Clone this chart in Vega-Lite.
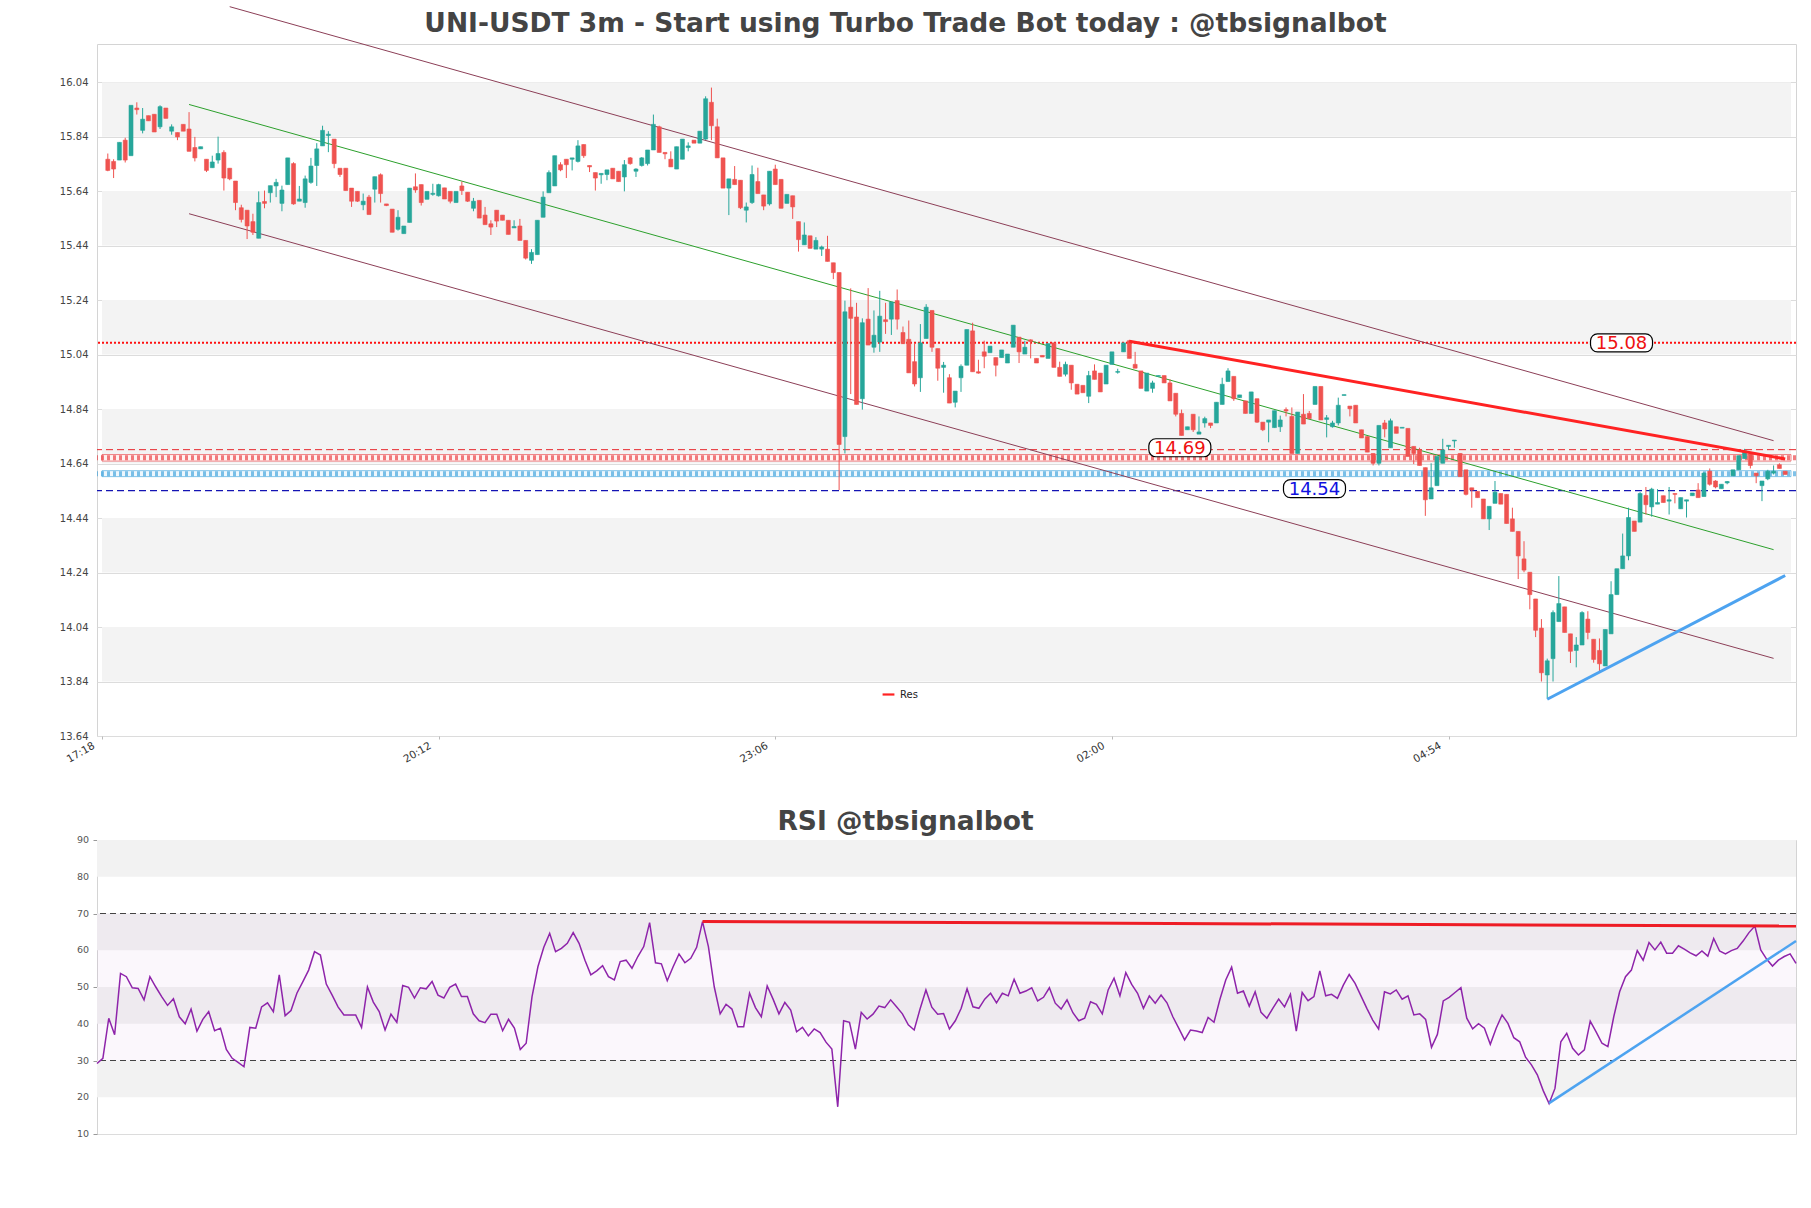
{
  "$schema": "https://vega.github.io/schema/vega-lite/v6.json",
  "background": "white",
  "padding": {"left": 58, "top": 4, "right": 10, "bottom": 10},
  "config": {"font": "DejaVu Sans", "view": {"stroke": "#d4d4d4", "strokeWidth": 1}},
  "bounds": "flush",
  "spacing": 104,
  "resolve": {"scale": {"color": "independent"}, "legend": {"color": "independent"}},
  "datasets": {
    "k": [
{"i":1,"o":15.757,"h":15.778,"l":15.713,"c":15.716,"r":29.2},
{"i":2,"o":15.749,"h":15.757,"l":15.688,"c":15.721,"r":30.6},
{"i":3,"o":15.754,"h":15.819,"l":15.754,"c":15.819,"r":41.5},
{"i":4,"o":15.827,"h":15.836,"l":15.745,"c":15.754,"r":37},
{"i":5,"o":15.770,"h":15.955,"l":15.770,"c":15.955,"r":53.7},
{"i":6,"o":15.945,"h":15.966,"l":15.921,"c":15.939,"r":52.8},
{"i":7,"o":15.863,"h":15.945,"l":15.852,"c":15.904,"r":49.8},
{"i":8,"o":15.917,"h":15.917,"l":15.898,"c":15.898,"r":49.6},
{"i":9,"o":15.922,"h":15.922,"l":15.857,"c":15.857,"r":46.5},
{"i":10,"o":15.876,"h":15.955,"l":15.868,"c":15.950,"r":52.8},
{"i":11,"o":15.945,"h":15.945,"l":15.907,"c":15.907,"r":50},
{"i":12,"o":15.860,"h":15.885,"l":15.847,"c":15.876,"r":47.4},
{"i":13,"o":15.855,"h":15.855,"l":15.827,"c":15.839,"r":45},
{"i":14,"o":15.885,"h":15.885,"l":15.860,"c":15.860,"r":46.8},
{"i":15,"o":15.868,"h":15.930,"l":15.786,"c":15.786,"r":41.9},
{"i":16,"o":15.800,"h":15.839,"l":15.749,"c":15.762,"r":40},
{"i":17,"o":15.795,"h":15.803,"l":15.795,"c":15.803,"r":44},
{"i":18,"o":15.757,"h":15.757,"l":15.710,"c":15.716,"r":38},
{"i":19,"o":15.726,"h":15.770,"l":15.726,"c":15.747,"r":41.2},
{"i":20,"o":15.754,"h":15.840,"l":15.741,"c":15.778,"r":43.3},
{"i":21,"o":15.782,"h":15.790,"l":15.642,"c":15.688,"r":38.1},
{"i":22,"o":15.724,"h":15.724,"l":15.680,"c":15.685,"r":38.8},
{"i":23,"o":15.677,"h":15.677,"l":15.570,"c":15.598,"r":33},
{"i":24,"o":15.579,"h":15.590,"l":15.525,"c":15.536,"r":30.6},
{"i":25,"o":15.570,"h":15.570,"l":15.464,"c":15.512,"r":29.5},
{"i":26,"o":15.528,"h":15.557,"l":15.479,"c":15.489,"r":28.3},
{"i":27,"o":15.467,"h":15.639,"l":15.467,"c":15.598,"r":39},
{"i":28,"o":15.602,"h":15.642,"l":15.577,"c":15.595,"r":38.8},
{"i":29,"o":15.634,"h":15.660,"l":15.598,"c":15.660,"r":44.6},
{"i":30,"o":15.659,"h":15.685,"l":15.618,"c":15.672,"r":45.7},
{"i":31,"o":15.595,"h":15.660,"l":15.566,"c":15.644,"r":43.3},
{"i":32,"o":15.664,"h":15.762,"l":15.664,"c":15.762,"r":53.3},
{"i":33,"o":15.741,"h":15.746,"l":15.590,"c":15.593,"r":42.2},
{"i":34,"o":15.603,"h":15.659,"l":15.603,"c":15.611,"r":43.6},
{"i":35,"o":15.598,"h":15.697,"l":15.579,"c":15.685,"r":48.3},
{"i":36,"o":15.672,"h":15.762,"l":15.667,"c":15.732,"r":51.4},
{"i":37,"o":15.734,"h":15.816,"l":15.659,"c":15.795,"r":54.6},
{"i":38,"o":15.806,"h":15.880,"l":15.806,"c":15.863,"r":59.6},
{"i":39,"o":15.844,"h":15.860,"l":15.783,"c":15.849,"r":58.7},
{"i":40,"o":15.831,"h":15.831,"l":15.724,"c":15.741,"r":50.8},
{"i":41,"o":15.724,"h":15.724,"l":15.692,"c":15.701,"r":47.8},
{"i":42,"o":15.724,"h":15.724,"l":15.642,"c":15.642,"r":44.6},
{"i":43,"o":15.651,"h":15.651,"l":15.582,"c":15.603,"r":42.4},
{"i":44,"o":15.639,"h":15.639,"l":15.600,"c":15.603,"r":42.4},
{"i":45,"o":15.590,"h":15.631,"l":15.570,"c":15.603,"r":42.4},
{"i":46,"o":15.618,"h":15.626,"l":15.554,"c":15.554,"r":39},
{"i":47,"o":15.647,"h":15.693,"l":15.598,"c":15.693,"r":50},
{"i":48,"o":15.700,"h":15.705,"l":15.598,"c":15.631,"r":45.9},
{"i":49,"o":15.593,"h":15.593,"l":15.585,"c":15.587,"r":43.3},
{"i":50,"o":15.574,"h":15.574,"l":15.489,"c":15.489,"r":38.3},
{"i":51,"o":15.500,"h":15.570,"l":15.495,"c":15.544,"r":42.6},
{"i":52,"o":15.484,"h":15.512,"l":15.484,"c":15.512,"r":40.4},
{"i":53,"o":15.525,"h":15.651,"l":15.525,"c":15.651,"r":50.4},
{"i":54,"o":15.656,"h":15.705,"l":15.634,"c":15.644,"r":49.9},
{"i":55,"o":15.664,"h":15.664,"l":15.587,"c":15.598,"r":47},
{"i":56,"o":15.610,"h":15.639,"l":15.610,"c":15.639,"r":49.8},
{"i":57,"o":15.628,"h":15.667,"l":15.623,"c":15.632,"r":49.5},
{"i":58,"o":15.623,"h":15.667,"l":15.620,"c":15.664,"r":51.5},
{"i":59,"o":15.652,"h":15.652,"l":15.611,"c":15.611,"r":47.8},
{"i":60,"o":15.639,"h":15.639,"l":15.595,"c":15.603,"r":47},
{"i":61,"o":15.598,"h":15.639,"l":15.598,"c":15.639,"r":49.9},
{"i":62,"o":15.659,"h":15.675,"l":15.626,"c":15.642,"r":50.8},
{"i":63,"o":15.636,"h":15.636,"l":15.600,"c":15.603,"r":47.4},
{"i":64,"o":15.577,"h":15.615,"l":15.566,"c":15.603,"r":47.4},
{"i":65,"o":15.606,"h":15.606,"l":15.541,"c":15.541,"r":42.7},
{"i":66,"o":15.552,"h":15.582,"l":15.517,"c":15.517,"r":40.8},
{"i":67,"o":15.520,"h":15.533,"l":15.479,"c":15.508,"r":40.3},
{"i":68,"o":15.570,"h":15.570,"l":15.508,"c":15.530,"r":42.6},
{"i":69,"o":15.552,"h":15.552,"l":15.533,"c":15.533,"r":42.6},
{"i":70,"o":15.533,"h":15.533,"l":15.481,"c":15.481,"r":38.1},
{"i":71,"o":15.505,"h":15.533,"l":15.505,"c":15.510,"r":41.2},
{"i":72,"o":15.512,"h":15.538,"l":15.459,"c":15.459,"r":38.8},
{"i":73,"o":15.459,"h":15.459,"l":15.389,"c":15.394,"r":33},
{"i":74,"o":15.386,"h":15.427,"l":15.373,"c":15.415,"r":34.7},
{"i":75,"o":15.407,"h":15.533,"l":15.407,"c":15.533,"r":47.4},
{"i":76,"o":15.544,"h":15.639,"l":15.544,"c":15.618,"r":55.5},
{"i":77,"o":15.634,"h":15.716,"l":15.634,"c":15.708,"r":60.8},
{"i":78,"o":15.659,"h":15.770,"l":15.659,"c":15.770,"r":64.6},
{"i":79,"o":15.737,"h":15.746,"l":15.713,"c":15.718,"r":59.6},
{"i":80,"o":15.757,"h":15.757,"l":15.688,"c":15.737,"r":60.5},
{"i":81,"o":15.757,"h":15.762,"l":15.716,"c":15.762,"r":61.9},
{"i":82,"o":15.749,"h":15.827,"l":15.745,"c":15.806,"r":64.8},
{"i":83,"o":15.811,"h":15.811,"l":15.762,"c":15.770,"r":61.9},
{"i":84,"o":15.734,"h":15.734,"l":15.710,"c":15.729,"r":57.3},
{"i":85,"o":15.708,"h":15.708,"l":15.642,"c":15.688,"r":53.3},
{"i":86,"o":15.700,"h":15.705,"l":15.667,"c":15.705,"r":54.4},
{"i":87,"o":15.701,"h":15.718,"l":15.680,"c":15.718,"r":55.8},
{"i":88,"o":15.724,"h":15.724,"l":15.685,"c":15.685,"r":52.8},
{"i":89,"o":15.713,"h":15.713,"l":15.675,"c":15.675,"r":51.9},
{"i":90,"o":15.692,"h":15.754,"l":15.639,"c":15.737,"r":56.9},
{"i":91,"o":15.762,"h":15.765,"l":15.737,"c":15.741,"r":57.3},
{"i":92,"o":15.713,"h":15.724,"l":15.692,"c":15.721,"r":55.1},
{"i":93,"o":15.734,"h":15.765,"l":15.730,"c":15.762,"r":58.3},
{"i":94,"o":15.741,"h":15.791,"l":15.734,"c":15.791,"r":61},
{"i":95,"o":15.791,"h":15.921,"l":15.791,"c":15.885,"r":67.5},
{"i":96,"o":15.876,"h":15.880,"l":15.782,"c":15.782,"r":56.6},
{"i":97,"o":15.782,"h":15.782,"l":15.757,"c":15.777,"r":56.3},
{"i":98,"o":15.757,"h":15.786,"l":15.729,"c":15.729,"r":51.7},
{"i":99,"o":15.721,"h":15.803,"l":15.721,"c":15.803,"r":55.5},
{"i":100,"o":15.757,"h":15.831,"l":15.757,"c":15.831,"r":59},
{"i":101,"o":15.800,"h":15.819,"l":15.786,"c":15.806,"r":56.6},
{"i":102,"o":15.827,"h":15.827,"l":15.816,"c":15.816,"r":57.8},
{"i":103,"o":15.816,"h":15.860,"l":15.816,"c":15.860,"r":60.8},
{"i":104,"o":15.831,"h":15.988,"l":15.828,"c":15.979,"r":67.8},
{"i":105,"o":15.966,"h":16.020,"l":15.827,"c":15.880,"r":61},
{"i":106,"o":15.876,"h":15.906,"l":15.762,"c":15.762,"r":50},
{"i":107,"o":15.762,"h":15.762,"l":15.651,"c":15.651,"r":42.7},
{"i":108,"o":15.651,"h":15.685,"l":15.552,"c":15.685,"r":45.3},
{"i":109,"o":15.683,"h":15.732,"l":15.664,"c":15.664,"r":44},
{"i":110,"o":15.680,"h":15.680,"l":15.574,"c":15.579,"r":39.2},
{"i":111,"o":15.570,"h":15.598,"l":15.525,"c":15.582,"r":39.2},
{"i":112,"o":15.598,"h":15.734,"l":15.593,"c":15.701,"r":48.3},
{"i":113,"o":15.675,"h":15.726,"l":15.631,"c":15.631,"r":44.4},
{"i":114,"o":15.626,"h":15.626,"l":15.570,"c":15.585,"r":41.9},
{"i":115,"o":15.593,"h":15.713,"l":15.587,"c":15.713,"r":50.3},
{"i":116,"o":15.721,"h":15.737,"l":15.664,"c":15.664,"r":46.7},
{"i":117,"o":15.683,"h":15.683,"l":15.577,"c":15.577,"r":42.7},
{"i":118,"o":15.595,"h":15.628,"l":15.595,"c":15.628,"r":45.8},
{"i":119,"o":15.623,"h":15.623,"l":15.538,"c":15.582,"r":43.7},
{"i":120,"o":15.528,"h":15.528,"l":15.418,"c":15.462,"r":37.8},
{"i":121,"o":15.443,"h":15.525,"l":15.443,"c":15.479,"r":39},
{"i":122,"o":15.476,"h":15.476,"l":15.430,"c":15.430,"r":36.7},
{"i":123,"o":15.427,"h":15.471,"l":15.427,"c":15.459,"r":38.6},
{"i":124,"o":15.427,"h":15.440,"l":15.402,"c":15.435,"r":37.6},
{"i":125,"o":15.427,"h":15.476,"l":15.382,"c":15.382,"r":35},
{"i":126,"o":15.377,"h":15.377,"l":15.317,"c":15.341,"r":33.1},
{"i":127,"o":15.341,"h":15.341,"l":14.543,"c":14.710,"r":17.4},
{"i":128,"o":14.739,"h":15.238,"l":14.677,"c":15.197,"r":40.8},
{"i":129,"o":15.214,"h":15.283,"l":14.895,"c":15.173,"r":40.4},
{"i":130,"o":15.178,"h":15.230,"l":14.857,"c":14.857,"r":33.1},
{"i":131,"o":14.878,"h":15.173,"l":14.838,"c":15.157,"r":43.1},
{"i":132,"o":15.170,"h":15.284,"l":15.075,"c":15.075,"r":41.3},
{"i":133,"o":15.067,"h":15.202,"l":15.047,"c":15.111,"r":42.6},
{"i":134,"o":15.086,"h":15.274,"l":15.050,"c":15.181,"r":44.8},
{"i":135,"o":15.168,"h":15.230,"l":15.116,"c":15.161,"r":44.4},
{"i":136,"o":15.170,"h":15.233,"l":15.112,"c":15.233,"r":46.5},
{"i":137,"o":15.238,"h":15.279,"l":15.132,"c":15.170,"r":44.6},
{"i":138,"o":15.121,"h":15.143,"l":15.080,"c":15.080,"r":42.7},
{"i":139,"o":15.096,"h":15.165,"l":14.973,"c":14.973,"r":39.7},
{"i":140,"o":15.014,"h":15.083,"l":14.923,"c":14.932,"r":38.3},
{"i":141,"o":14.955,"h":15.152,"l":14.903,"c":15.083,"r":44},
{"i":142,"o":15.099,"h":15.225,"l":15.099,"c":15.214,"r":49.2},
{"i":143,"o":15.202,"h":15.202,"l":15.050,"c":15.067,"r":44.5},
{"i":144,"o":15.062,"h":15.062,"l":14.944,"c":14.990,"r":42.6},
{"i":145,"o":14.993,"h":15.013,"l":14.900,"c":15.001,"r":42.8},
{"i":146,"o":14.955,"h":14.968,"l":14.862,"c":14.862,"r":38.6},
{"i":147,"o":14.865,"h":14.906,"l":14.846,"c":14.906,"r":40.8},
{"i":148,"o":14.955,"h":15.004,"l":14.903,"c":14.997,"r":44.2},
{"i":149,"o":15.001,"h":15.132,"l":15.001,"c":15.132,"r":49.5},
{"i":150,"o":15.127,"h":15.157,"l":14.977,"c":14.977,"r":44.6},
{"i":151,"o":14.977,"h":15.021,"l":14.970,"c":14.972,"r":44.2},
{"i":152,"o":15.050,"h":15.091,"l":14.990,"c":15.034,"r":46.7},
{"i":153,"o":15.047,"h":15.071,"l":15.047,"c":15.071,"r":48.3},
{"i":154,"o":15.029,"h":15.029,"l":14.960,"c":15.001,"r":45.7},
{"i":155,"o":15.029,"h":15.057,"l":15.029,"c":15.057,"r":48.3},
{"i":156,"o":15.009,"h":15.042,"l":15.009,"c":15.042,"r":47.6},
{"i":157,"o":15.067,"h":15.148,"l":15.067,"c":15.148,"r":52.1},
{"i":158,"o":15.104,"h":15.104,"l":15.009,"c":15.050,"r":48.3},
{"i":159,"o":15.042,"h":15.091,"l":15.042,"c":15.067,"r":48.9},
{"i":160,"o":15.094,"h":15.096,"l":15.026,"c":15.088,"r":49.8},
{"i":161,"o":15.026,"h":15.026,"l":15.009,"c":15.009,"r":46.2},
{"i":162,"o":15.037,"h":15.037,"l":15.031,"c":15.031,"r":47.2},
{"i":163,"o":15.026,"h":15.080,"l":15.026,"c":15.080,"r":49.8},
{"i":164,"o":15.083,"h":15.083,"l":14.993,"c":14.993,"r":45.6},
{"i":165,"o":14.993,"h":15.014,"l":14.960,"c":14.960,"r":44},
{"i":166,"o":14.968,"h":15.014,"l":14.960,"c":15.004,"r":46.5},
{"i":167,"o":15.001,"h":15.001,"l":14.911,"c":14.936,"r":43},
{"i":168,"o":14.931,"h":14.931,"l":14.895,"c":14.895,"r":40.8},
{"i":169,"o":14.927,"h":14.927,"l":14.900,"c":14.900,"r":41.5},
{"i":170,"o":14.887,"h":14.980,"l":14.862,"c":14.963,"r":46},
{"i":171,"o":14.980,"h":15.004,"l":14.949,"c":14.949,"r":45.3},
{"i":172,"o":14.972,"h":14.972,"l":14.903,"c":14.903,"r":42.7},
{"i":173,"o":14.932,"h":15.001,"l":14.932,"c":15.001,"r":49.2},
{"i":174,"o":15.004,"h":15.050,"l":15.004,"c":15.050,"r":52.4},
{"i":175,"o":14.975,"h":14.988,"l":14.970,"c":14.978,"r":47.6},
{"i":176,"o":15.050,"h":15.083,"l":15.050,"c":15.083,"r":53.9},
{"i":177,"o":15.091,"h":15.094,"l":15.026,"c":15.026,"r":50.7},
{"i":178,"o":15.004,"h":15.050,"l":14.990,"c":14.990,"r":48.3},
{"i":179,"o":14.980,"h":14.980,"l":14.916,"c":14.916,"r":44.2},
{"i":180,"o":14.906,"h":14.972,"l":14.906,"c":14.972,"r":47.6},
{"i":181,"o":14.916,"h":14.944,"l":14.900,"c":14.936,"r":45.6},
{"i":182,"o":14.960,"h":14.963,"l":14.960,"c":14.963,"r":47.8},
{"i":183,"o":14.963,"h":14.963,"l":14.936,"c":14.936,"r":45.7},
{"i":184,"o":14.936,"h":14.949,"l":14.870,"c":14.870,"r":41.9},
{"i":185,"o":14.898,"h":14.898,"l":14.813,"c":14.821,"r":38.8},
{"i":186,"o":14.824,"h":14.838,"l":14.743,"c":14.743,"r":35.6},
{"i":187,"o":14.764,"h":14.775,"l":14.764,"c":14.775,"r":38.3},
{"i":188,"o":14.821,"h":14.821,"l":14.756,"c":14.764,"r":38},
{"i":189,"o":14.748,"h":14.813,"l":14.748,"c":14.756,"r":37.6},
{"i":190,"o":14.789,"h":14.812,"l":14.772,"c":14.805,"r":41.7},
{"i":191,"o":14.789,"h":14.789,"l":14.770,"c":14.780,"r":40.4},
{"i":192,"o":14.789,"h":14.865,"l":14.789,"c":14.865,"r":46.6},
{"i":193,"o":14.857,"h":14.955,"l":14.857,"c":14.931,"r":51.9},
{"i":194,"o":14.941,"h":14.990,"l":14.941,"c":14.980,"r":55.4},
{"i":195,"o":14.960,"h":14.960,"l":14.870,"c":14.878,"r":48.3},
{"i":196,"o":14.882,"h":14.892,"l":14.882,"c":14.892,"r":48.9},
{"i":197,"o":14.870,"h":14.870,"l":14.824,"c":14.824,"r":44.8},
{"i":198,"o":14.824,"h":14.903,"l":14.824,"c":14.903,"r":48.7},
{"i":199,"o":14.878,"h":14.878,"l":14.789,"c":14.792,"r":43.1},
{"i":200,"o":14.792,"h":14.792,"l":14.759,"c":14.764,"r":41.5},
{"i":201,"o":14.792,"h":14.800,"l":14.718,"c":14.800,"r":44.2},
{"i":202,"o":14.772,"h":14.834,"l":14.772,"c":14.834,"r":46.7},
{"i":203,"o":14.775,"h":14.816,"l":14.756,"c":14.800,"r":44.6},
{"i":204,"o":14.838,"h":14.846,"l":14.813,"c":14.833,"r":48},
{"i":205,"o":14.813,"h":14.846,"l":14.677,"c":14.677,"r":38},
{"i":206,"o":14.677,"h":14.829,"l":14.677,"c":14.829,"r":48.5},
{"i":207,"o":14.821,"h":14.895,"l":14.785,"c":14.785,"r":46.3},
{"i":208,"o":14.824,"h":14.833,"l":14.805,"c":14.805,"r":47.4},
{"i":209,"o":14.857,"h":14.923,"l":14.857,"c":14.923,"r":54.4},
{"i":210,"o":14.923,"h":14.923,"l":14.800,"c":14.800,"r":47.6},
{"i":211,"o":14.802,"h":14.818,"l":14.736,"c":14.808,"r":48},
{"i":212,"o":14.775,"h":14.797,"l":14.772,"c":14.789,"r":46.9},
{"i":213,"o":14.789,"h":14.882,"l":14.780,"c":14.854,"r":50.5},
{"i":214,"o":14.890,"h":14.893,"l":14.890,"c":14.893,"r":53.4},
{"i":215,"o":14.851,"h":14.851,"l":14.813,"c":14.841,"r":51},
{"i":216,"o":14.854,"h":14.854,"l":14.789,"c":14.789,"r":47.6},
{"i":217,"o":14.764,"h":14.764,"l":14.734,"c":14.734,"r":44.2},
{"i":218,"o":14.739,"h":14.739,"l":14.682,"c":14.682,"r":41},
{"i":219,"o":14.677,"h":14.677,"l":14.633,"c":14.641,"r":38.6},
{"i":220,"o":14.641,"h":14.780,"l":14.633,"c":14.780,"r":48.7},
{"i":221,"o":14.789,"h":14.800,"l":14.736,"c":14.767,"r":48.1},
{"i":222,"o":14.698,"h":14.805,"l":14.698,"c":14.797,"r":49.2},
{"i":223,"o":14.775,"h":14.775,"l":14.751,"c":14.751,"r":46.7},
{"i":224,"o":14.770,"h":14.773,"l":14.770,"c":14.773,"r":47.6},
{"i":225,"o":14.769,"h":14.769,"l":14.666,"c":14.666,"r":42.4},
{"i":226,"o":14.703,"h":14.703,"l":14.638,"c":14.677,"r":42.7},
{"i":227,"o":14.690,"h":14.698,"l":14.633,"c":14.633,"r":41.2},
{"i":228,"o":14.625,"h":14.625,"l":14.448,"c":14.507,"r":33.6},
{"i":229,"o":14.510,"h":14.641,"l":14.510,"c":14.551,"r":37.1},
{"i":230,"o":14.559,"h":14.666,"l":14.559,"c":14.666,"r":46.2},
{"i":231,"o":14.641,"h":14.731,"l":14.641,"c":14.690,"r":47.2},
{"i":232,"o":14.703,"h":14.707,"l":14.690,"c":14.707,"r":48.5},
{"i":233,"o":14.723,"h":14.726,"l":14.698,"c":14.726,"r":49.8},
{"i":234,"o":14.677,"h":14.677,"l":14.592,"c":14.592,"r":41.5},
{"i":235,"o":14.617,"h":14.617,"l":14.523,"c":14.527,"r":38.6},
{"i":236,"o":14.551,"h":14.551,"l":14.478,"c":14.543,"r":40},
{"i":237,"o":14.538,"h":14.538,"l":14.515,"c":14.515,"r":38.8},
{"i":238,"o":14.510,"h":14.510,"l":14.437,"c":14.437,"r":34.4},
{"i":239,"o":14.437,"h":14.483,"l":14.396,"c":14.483,"r":38.8},
{"i":240,"o":14.494,"h":14.576,"l":14.494,"c":14.535,"r":42.4},
{"i":241,"o":14.530,"h":14.530,"l":14.491,"c":14.491,"r":40.1},
{"i":242,"o":14.527,"h":14.527,"l":14.420,"c":14.420,"r":36.2},
{"i":243,"o":14.437,"h":14.478,"l":14.391,"c":14.391,"r":35.1},
{"i":244,"o":14.391,"h":14.391,"l":14.216,"c":14.301,"r":30.9},
{"i":245,"o":14.290,"h":14.355,"l":14.241,"c":14.249,"r":28.8},
{"i":246,"o":14.241,"h":14.241,"l":14.105,"c":14.159,"r":26.1},
{"i":247,"o":14.143,"h":14.143,"l":14.003,"c":14.028,"r":21.8},
{"i":248,"o":14.036,"h":14.069,"l":13.840,"c":13.872,"r":18.3},
{"i":249,"o":13.864,"h":13.924,"l":13.777,"c":13.916,"r":22.4},
{"i":250,"o":13.924,"h":14.101,"l":13.840,"c":14.093,"r":35.1},
{"i":251,"o":14.060,"h":14.227,"l":14.060,"c":14.126,"r":37.4},
{"i":252,"o":14.114,"h":14.114,"l":14.020,"c":14.020,"r":33.3},
{"i":253,"o":14.015,"h":14.015,"l":13.908,"c":13.951,"r":31.5},
{"i":254,"o":13.954,"h":14.003,"l":13.892,"c":13.974,"r":32.9},
{"i":255,"o":13.974,"h":14.098,"l":13.974,"c":14.093,"r":40.7},
{"i":256,"o":14.069,"h":14.098,"l":13.995,"c":14.020,"r":37.8},
{"i":257,"o":13.995,"h":13.995,"l":13.909,"c":13.921,"r":34.7},
{"i":258,"o":13.954,"h":13.998,"l":13.875,"c":13.905,"r":33.8},
{"i":259,"o":13.897,"h":14.031,"l":13.897,"c":14.031,"r":41.9},
{"i":260,"o":14.015,"h":14.208,"l":14.015,"c":14.159,"r":48.7},
{"i":261,"o":14.159,"h":14.254,"l":14.159,"c":14.254,"r":52.8},
{"i":262,"o":14.254,"h":14.383,"l":14.254,"c":14.301,"r":54.6},
{"i":263,"o":14.301,"h":14.478,"l":14.285,"c":14.442,"r":59.9},
{"i":264,"o":14.429,"h":14.429,"l":14.391,"c":14.391,"r":57.3},
{"i":265,"o":14.425,"h":14.535,"l":14.425,"c":14.530,"r":62.1},
{"i":266,"o":14.523,"h":14.554,"l":14.453,"c":14.489,"r":60.1},
{"i":267,"o":14.481,"h":14.551,"l":14.445,"c":14.546,"r":62.2},
{"i":268,"o":14.491,"h":14.546,"l":14.491,"c":14.497,"r":59.2},
{"i":269,"o":14.522,"h":14.522,"l":14.497,"c":14.497,"r":59.2},
{"i":270,"o":14.502,"h":14.554,"l":14.453,"c":14.507,"r":61.2},
{"i":271,"o":14.530,"h":14.530,"l":14.494,"c":14.527,"r":60.3},
{"i":272,"o":14.474,"h":14.515,"l":14.474,"c":14.515,"r":59.3},
{"i":273,"o":14.502,"h":14.507,"l":14.442,"c":14.507,"r":58.5},
{"i":274,"o":14.522,"h":14.532,"l":14.522,"c":14.532,"r":59.8},
{"i":275,"o":14.543,"h":14.568,"l":14.515,"c":14.515,"r":58.4},
{"i":276,"o":14.519,"h":14.608,"l":14.519,"c":14.605,"r":63.2},
{"i":277,"o":14.612,"h":14.622,"l":14.559,"c":14.564,"r":59.8},
{"i":278,"o":14.576,"h":14.579,"l":14.549,"c":14.554,"r":59},
{"i":279,"o":14.548,"h":14.564,"l":14.548,"c":14.564,"r":59.9},
{"i":280,"o":14.569,"h":14.576,"l":14.564,"c":14.574,"r":60.5},
{"i":281,"o":14.595,"h":14.617,"l":14.595,"c":14.617,"r":62.5},
{"i":282,"o":14.617,"h":14.669,"l":14.617,"c":14.669,"r":64.8},
{"i":283,"o":14.658,"h":14.694,"l":14.658,"c":14.687,"r":66.6},
{"i":284,"o":14.674,"h":14.674,"l":14.622,"c":14.633,"r":60.1},
{"i":285,"o":14.605,"h":14.605,"l":14.568,"c":14.595,"r":57.6},
{"i":286,"o":14.559,"h":14.576,"l":14.502,"c":14.576,"r":55.7},
{"i":287,"o":14.584,"h":14.617,"l":14.579,"c":14.612,"r":57.3},
{"i":288,"o":14.605,"h":14.633,"l":14.600,"c":14.612,"r":58.3},
{"i":289,"o":14.636,"h":14.641,"l":14.622,"c":14.622,"r":59},
{"i":290,"o":14.612,"h":14.612,"l":14.600,"c":14.600,"r":56.4}
    ]
  },
  "vconcat": [
    {
      "width": 1699,
      "height": 692,
      "title": {"text": "UNI-USDT 3m - Start using Turbo Trade Bot today : @tbsignalbot", "font": "DejaVu Sans", "fontSize": 26.5, "fontWeight": "bold", "color": "#444444", "anchor": "middle", "frame": "group", "dx": -41, "baseline": "alphabetic", "offset": -54},
      "layer": [
        {
          "data": {"values": [{"a":15.84,"b":16.04},{"a":15.44,"b":15.64},{"a":15.04,"b":15.24},{"a":14.64,"b":14.84},{"a":14.24,"b":14.44},{"a":13.84,"b":14.04}]},
          "mark": {"type": "rect", "color": "#f3f3f3"},
          "encoding": {
            "x": {"datum": 0, "type": "quantitative", "scale": {"domain": [0, 291], "nice": false, "zero": false},
                  "axis": {"title": null, "values": [0, 58, 116, 174, 232], "labelExpr": "timeFormat(datetime(2024,0,1,17,18+3*datum.value),'%H:%M')", "labelAngle": -30, "labelAlign": "right", "labelBaseline": "bottom", "labelFontSize": 10.5, "labelColor": "#333333", "tickSize": 3, "tickColor": "#bbbbbb", "labelPadding": 10, "labelOffset": -6, "domain": false, "grid": false, "labelFlush": false, "labelOverlap": false}},
            "x2": {"datum": 291},
            "y": {"field": "a", "type": "quantitative", "scale": {"domain": [13.64, 16.18], "nice": false, "zero": false},
                  "axis": {"title": null, "values": [13.64,13.84,14.04,14.24,14.44,14.64,14.84,15.04,15.24,15.44,15.64,15.84,16.04], "format": ".2f", "labelFontSize": 10, "labelColor": "#444444", "tickSize": 0, "labelPadding": 9, "domain": false, "grid": true, "gridColor": "#dcdcdc", "gridWidth": 1, "labelOverlap": false}},
            "y2": {"field": "b"}
          }
        },
        {
          "data": {"values": [{"v": 15.083}]},
          "mark": {"type": "rule", "color": "#ff1010", "strokeWidth": 2, "strokeDash": [2, 2]},
          "encoding": {"y": {"field": "v", "type": "quantitative"}}
        },
        {
          "data": {"values": [{"v": 14.691}]},
          "mark": {"type": "rule", "color": "#e8262b", "strokeWidth": 1, "strokeDash": [7, 4]},
          "encoding": {"y": {"field": "v", "type": "quantitative"}}
        },
        {
          "data": {"values": [{"a": 14.649, "b": 14.673}]},
          "mark": {"type": "rect", "color": "#fff2f1", "stroke": "#e8262b", "strokeWidth": 0.7, "strokeOpacity": 0.8},
          "encoding": {"x": {"datum": 0, "type": "quantitative"}, "x2": {"datum": 291}, "y": {"field": "a", "type": "quantitative"}, "y2": {"field": "b"}}
        },
        {
          "data": {"values": [{"v": 14.661}]},
          "mark": {"type": "rule", "color": "#e8262b", "strokeWidth": 5, "strokeDash": [3, 3], "opacity": 0.6},
          "encoding": {"y": {"field": "v", "type": "quantitative"}}
        },
        {
          "data": {"values": [{"a": 14.592, "b": 14.614}]},
          "mark": {"type": "rect", "color": "#eef7fd", "stroke": "#2b9ad8", "strokeWidth": 0.7, "strokeOpacity": 0.8},
          "encoding": {"x": {"datum": 0, "type": "quantitative"}, "x2": {"datum": 291}, "y": {"field": "a", "type": "quantitative"}, "y2": {"field": "b"}}
        },
        {
          "data": {"values": [{"v": 14.603}]},
          "mark": {"type": "rule", "color": "#2b9ad8", "strokeWidth": 5, "strokeDash": [3, 3], "opacity": 0.6},
          "encoding": {"y": {"field": "v", "type": "quantitative"}}
        },
        {
          "data": {"values": [{"v": 14.541}]},
          "mark": {"type": "rule", "color": "#1414b4", "strokeWidth": 1.3, "strokeDash": [7, 4]},
          "encoding": {"y": {"field": "v", "type": "quantitative"}}
        },
        {
          "data": {"values": [{"i":22,"p":16.317},{"i":288,"p":14.724}]},
          "mark": {"type": "line", "color": "#8c3f57", "strokeWidth": 1, "clip": false},
          "encoding": {"x": {"field": "i", "type": "quantitative"}, "y": {"field": "p", "type": "quantitative"}}
        },
        {
          "data": {"values": [{"i":15,"p":15.557},{"i":288,"p":13.925}]},
          "mark": {"type": "line", "color": "#8c3f57", "strokeWidth": 1},
          "encoding": {"x": {"field": "i", "type": "quantitative"}, "y": {"field": "p", "type": "quantitative"}}
        },
        {
          "data": {"values": [{"i":15,"p":15.958},{"i":288,"p":14.324}]},
          "mark": {"type": "line", "color": "#2ca02c", "strokeWidth": 1},
          "encoding": {"x": {"field": "i", "type": "quantitative"}, "y": {"field": "p", "type": "quantitative"}}
        },
        {
          "data": {"name": "k"},
          "mark": {"type": "rule", "strokeWidth": 1},
          "encoding": {
            "x": {"field": "i", "type": "quantitative"},
            "y": {"field": "l", "type": "quantitative"},
            "y2": {"field": "h"},
            "color": {"condition": {"test": "datum.c >= datum.o", "value": "#26a69a"}, "value": "#ef5350"}
          }
        },
        {
          "data": {"name": "k"},
          "mark": {"type": "bar", "width": 4, "strokeWidth": 0.6},
          "encoding": {
            "x": {"field": "i", "type": "quantitative"},
            "y": {"field": "o", "type": "quantitative"},
            "y2": {"field": "c"},
            "color": {"condition": {"test": "datum.c >= datum.o", "value": "#26a69a"}, "value": "#ef5350"},
            "stroke": {"condition": {"test": "datum.c >= datum.o", "value": "#26a69a"}, "value": "#ef5350"}
          }
        },
        {
          "data": {"values": [{"i":177,"p":15.089},{"i":290,"p":14.657}]},
          "mark": {"type": "line", "strokeWidth": 3},
          "encoding": {
            "x": {"field": "i", "type": "quantitative"},
            "y": {"field": "p", "type": "quantitative"},
            "color": {"datum": "Res", "type": "nominal", "scale": {"domain": ["Res"], "range": ["#ff2222"]},
                      "legend": {"title": null, "orient": "none", "legendX": 784, "legendY": 643, "symbolType": "stroke", "symbolStrokeWidth": 2.2, "symbolSize": 140, "labelFontSize": 10, "labelColor": "#222222", "labelFont": "DejaVu Sans"}}
          }
        },
        {
          "data": {"values": [{"i":249,"p":13.775},{"i":290,"p":14.229}]},
          "mark": {"type": "line", "color": "#4da3f0", "strokeWidth": 3},
          "encoding": {"x": {"field": "i", "type": "quantitative"}, "y": {"field": "p", "type": "quantitative"}}
        },
        {
          "data": {"values": [{"i":261.8,"p":15.083,"t":"15.08"},{"i":185.7,"p":14.698,"t":"14.69"},{"i":208.9,"p":14.548,"t":"14.54"}]},
          "mark": {"type": "rect", "fill": "white", "stroke": "black", "strokeWidth": 1.2, "cornerRadius": 7, "xOffset": -31, "x2Offset": 31, "yOffset": 9, "y2Offset": -9},
          "encoding": {"x": {"field": "i", "type": "quantitative"}, "x2": {"field": "i"}, "y": {"field": "p", "type": "quantitative"}, "y2": {"field": "p"}}
        },
        {
          "data": {"values": [{"i":261.8,"p":15.083,"t":"15.08"},{"i":185.7,"p":14.698,"t":"14.69"},{"i":208.9,"p":14.548,"t":"14.54"}]},
          "mark": {"type": "text", "fontSize": 18, "font": "DejaVu Sans", "align": "center", "baseline": "middle", "dy": 1},
          "encoding": {"x": {"field": "i", "type": "quantitative"}, "y": {"field": "p", "type": "quantitative"}, "text": {"field": "t"},
                       "color": {"condition": {"test": "datum.t == '14.54'", "value": "#1010e0"}, "value": "#ee1111"}}
        }
      ]
    },
    {
      "width": 1699,
      "height": 294,
      "title": {"text": "RSI @tbsignalbot", "font": "DejaVu Sans", "fontSize": 26.5, "fontWeight": "bold", "color": "#444444", "anchor": "middle", "frame": "group", "dx": -41, "baseline": "alphabetic", "offset": -21},
      "layer": [
        {
          "data": {"values": [{"a":80,"b":90},{"a":60,"b":70},{"a":40,"b":50},{"a":20,"b":30}]},
          "mark": {"type": "rect", "color": "#f2f2f2"},
          "encoding": {
            "x": {"datum": 1, "type": "quantitative", "scale": {"domain": [1, 290], "nice": false, "zero": false}, "axis": null},
            "x2": {"datum": 290},
            "y": {"field": "a", "type": "quantitative", "scale": {"domain": [10, 90], "nice": false, "zero": false},
                  "axis": {"title": null, "values": [10,15,20,25,30,35,40,45,50,55,60,65,70,75,80,85,90], "labels": false, "tickSize": 4, "tickColor": "#999999", "domain": false, "grid": true, "gridColor": "#dcdcdc", "gridOpacity": {"condition": {"test": "datum.value % 10 == 0", "value": 1}, "value": 0}}},
            "y2": {"field": "b"}
          }
        },
        {
          "data": {"values": [{"a": 30, "b": 70}]},
          "mark": {"type": "rect", "color": "#b060c0", "opacity": 0.05},
          "encoding": {"x": {"datum": 1, "type": "quantitative"}, "x2": {"datum": 290}, "y": {"field": "a", "type": "quantitative"}, "y2": {"field": "b"}}
        },
        {
          "data": {"values": [{"v": 30}, {"v": 70}]},
          "mark": {"type": "rule", "color": "#444444", "strokeWidth": 1.2, "strokeDash": [6, 4]},
          "encoding": {"y": {"field": "v", "type": "quantitative"}}
        },
        {
          "data": {"name": "k"},
          "mark": {"type": "line", "color": "#8e24aa", "strokeWidth": 1.5},
          "encoding": {"x": {"field": "i", "type": "quantitative"}, "y": {"field": "r", "type": "quantitative"}}
        },
        {
          "data": {"values": [{"i":104,"p":67.8},{"i":290,"p":66.6}]},
          "mark": {"type": "line", "color": "#ee1c25", "strokeWidth": 3},
          "encoding": {"x": {"field": "i", "type": "quantitative"}, "y": {"field": "p", "type": "quantitative"}}
        },
        {
          "data": {"values": [{"i":248,"p":18.4},{"i":290,"p":62.5}]},
          "mark": {"type": "line", "color": "#4da3f0", "strokeWidth": 2.5},
          "encoding": {"x": {"field": "i", "type": "quantitative"}, "y": {"field": "p", "type": "quantitative"}}
        },
        {
          "data": {"values": [{"v":10},{"v":20},{"v":30},{"v":40},{"v":50},{"v":60},{"v":70},{"v":80},{"v":90}]},
          "mark": {"type": "text", "align": "right", "baseline": "middle", "dx": -8, "fontSize": 9.5, "font": "DejaVu Sans", "color": "#555555", "clip": false},
          "encoding": {"x": {"datum": 1, "type": "quantitative"}, "y": {"field": "v", "type": "quantitative"}, "text": {"field": "v", "type": "quantitative", "format": "d"}}
        }
      ]
    }
  ]
}
